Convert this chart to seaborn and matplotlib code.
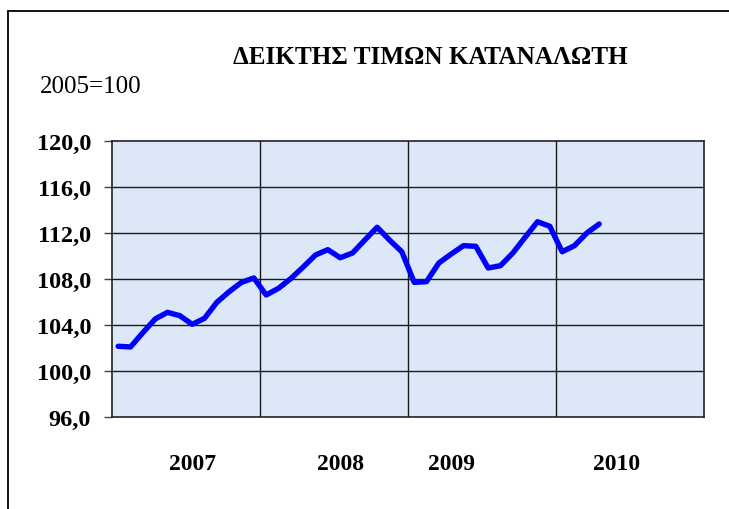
import matplotlib
matplotlib.use('Agg')
import matplotlib.pyplot as plt
import numpy as np
import pandas as pd
import seaborn as sns
from matplotlib.lines import Line2D

# monthly consumer price index, Jan 2007 .. Apr 2010 (2005=100)
CPI = [102.15, 102.09, 103.33, 104.52, 105.10, 104.81, 104.06, 104.58, 105.97, 106.90, 107.71, 108.09,
       106.61, 107.19, 108.04, 109.04, 110.09, 110.55, 109.85, 110.26, 111.39, 112.50, 111.39, 110.37,
       107.71, 107.77, 109.39, 110.17, 110.90, 110.84, 108.96, 109.16, 110.26, 111.63, 112.98, 112.58,
       110.37, 110.90, 112.00, 112.78]
YEARS = ['2007', '2008', '2009', '2010']
YEAR_LABEL_MONTH = [6, 18, 27, 40.4]
Y_TICKS = [96, 100, 104, 108, 112, 116, 120]

TITLE = 'ΔΕΙΚΤΗΣ ΤΙΜΩΝ ΚΑΤΑΝΑΛΩΤΗ'
BASE = '2005=100'


def main():
    sns.set_theme(style='white')
    plt.rcParams['font.family'] = ['Liberation Serif', 'DejaVu Serif']

    df = pd.DataFrame({'month': np.arange(len(CPI)), 'cpi': CPI})

    fig = plt.figure(figsize=(7.29, 5.10), dpi=100)
    ax = fig.add_axes([112 / 729, 92 / 510, 592 / 729, 276 / 510])
    ax.set_facecolor('#dce8f7')

    n_months = 12 * len(YEARS)
    ax.set_xlim(-0.5, n_months - 0.5)
    ax.set_ylim(Y_TICKS[0], Y_TICKS[-1])

    for y in Y_TICKS[1:-1]:
        ax.axhline(y, color='#1a1a1a', lw=1.0, zorder=1)
    for i in range(1, len(YEARS)):
        ax.axvline(12 * i - 0.5, color='#1a1a1a', lw=1.0, zorder=1)

    sns.lineplot(data=df, x='month', y='cpi', ax=ax, color='#0000ff',
                 linewidth=3.9, zorder=3)

    ax.set_yticks(Y_TICKS)
    ax.set_yticklabels([f'{v:.1f}'.replace('.', ',') for v in Y_TICKS],
                       fontsize=17.5, fontweight='bold', color='black')
    ax.tick_params(axis='y', direction='out', length=6, width=1, color='#444444',
                   pad=9, left=True)
    ax.set_xticks(YEAR_LABEL_MONTH)
    ax.set_xticklabels(YEARS, fontsize=17, fontweight='bold', color='black')
    ax.tick_params(axis='x', length=0, pad=26)
    ax.set_xlabel('')
    ax.set_ylabel('')

    for side in ['left', 'bottom', 'right', 'top']:
        ax.spines[side].set_visible(True)
        ax.spines[side].set_color('#222222')
        ax.spines[side].set_linewidth(1.2)

    fig.text(430 / 729, 1 - 57 / 510, TITLE, ha='center', va='center',
             fontsize=18.2, fontweight='bold', color='black')
    fig.text(40 / 729, 1 - 87 / 510, BASE, ha='left', va='center', fontsize=18,
             color='black')

    # outer chart frame (only top and left edges fall inside the picture)
    fig.add_artist(Line2D([8 / 729, 1.0], [1 - 12 / 510, 1 - 12 / 510],
                          transform=fig.transFigure, color='black', lw=1.3))
    fig.add_artist(Line2D([8 / 729, 8 / 729], [0.0, 1 - 12 / 510],
                          transform=fig.transFigure, color='black', lw=1.3))

    fig.savefig('out.png', dpi=100)


if __name__ == '__main__':
    main()
